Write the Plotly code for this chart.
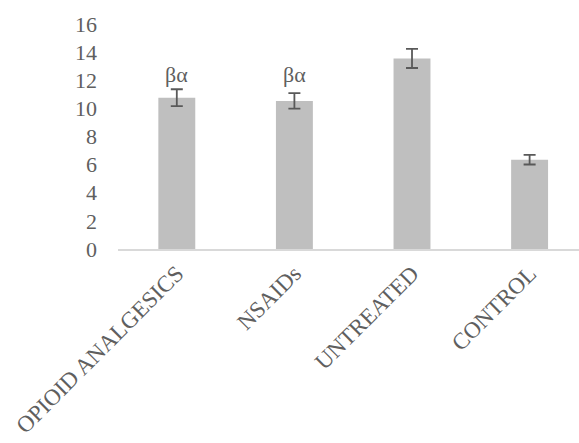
import plotly.graph_objects as go

# Group means with their error margins
groups = ["OPIOID ANALGESICS", "NSAIDs", "UNTREATED", "CONTROL"]
means = [10.76, 10.53, 13.55, 6.35]
errors = [0.60, 0.55, 0.68, 0.34]

# Significance marks shown above selected groups
mark_groups = ["OPIOID ANALGESICS", "NSAIDs"]
mark_text = "βα"
mark_level = 12.4

y_ticks = [0, 2, 4, 6, 8, 10, 12, 14, 16]

FONT = "Liberation Serif, Times New Roman, serif"
TEXT_GREY = "#5f5f5f"

fig = go.Figure()
fig.add_trace(
    go.Bar(
        x=groups,
        y=means,
        marker=dict(color="#bfbfbf", line=dict(width=0)),
        error_y=dict(
            type="data",
            array=errors,
            visible=True,
            color="#595959",
            thickness=1.8,
            width=6,
        ),
    )
)

for g in mark_groups:
    fig.add_annotation(
        x=g,
        y=mark_level,
        text=mark_text,
        showarrow=False,
        yanchor="middle",
        font=dict(family=FONT, size=22, color=TEXT_GREY),
    )

fig.update_layout(
    width=579,
    height=443,
    margin=dict(l=118, r=0, t=24, b=194),
    paper_bgcolor="white",
    plot_bgcolor="white",
    bargap=0.686,
    showlegend=False,
    font=dict(family=FONT, size=22, color=TEXT_GREY),
)

fig.update_xaxes(
    range=[-0.5, 3.42],
    automargin=False,
    showline=True,
    linecolor="#d9d9d9",
    linewidth=2,
    showgrid=False,
    tickangle=-45,
    tickfont=dict(family=FONT, size=23, color=TEXT_GREY),
    ticks="",
)

fig.update_yaxes(
    range=[0, 16],
    tickvals=y_ticks,
    automargin=False,
    showgrid=False,
    showline=False,
    zeroline=False,
    ticks="",
    ticklabelstandoff=20,
    tickfont=dict(family=FONT, size=22, color=TEXT_GREY),
)

fig.write_html("out.html")
